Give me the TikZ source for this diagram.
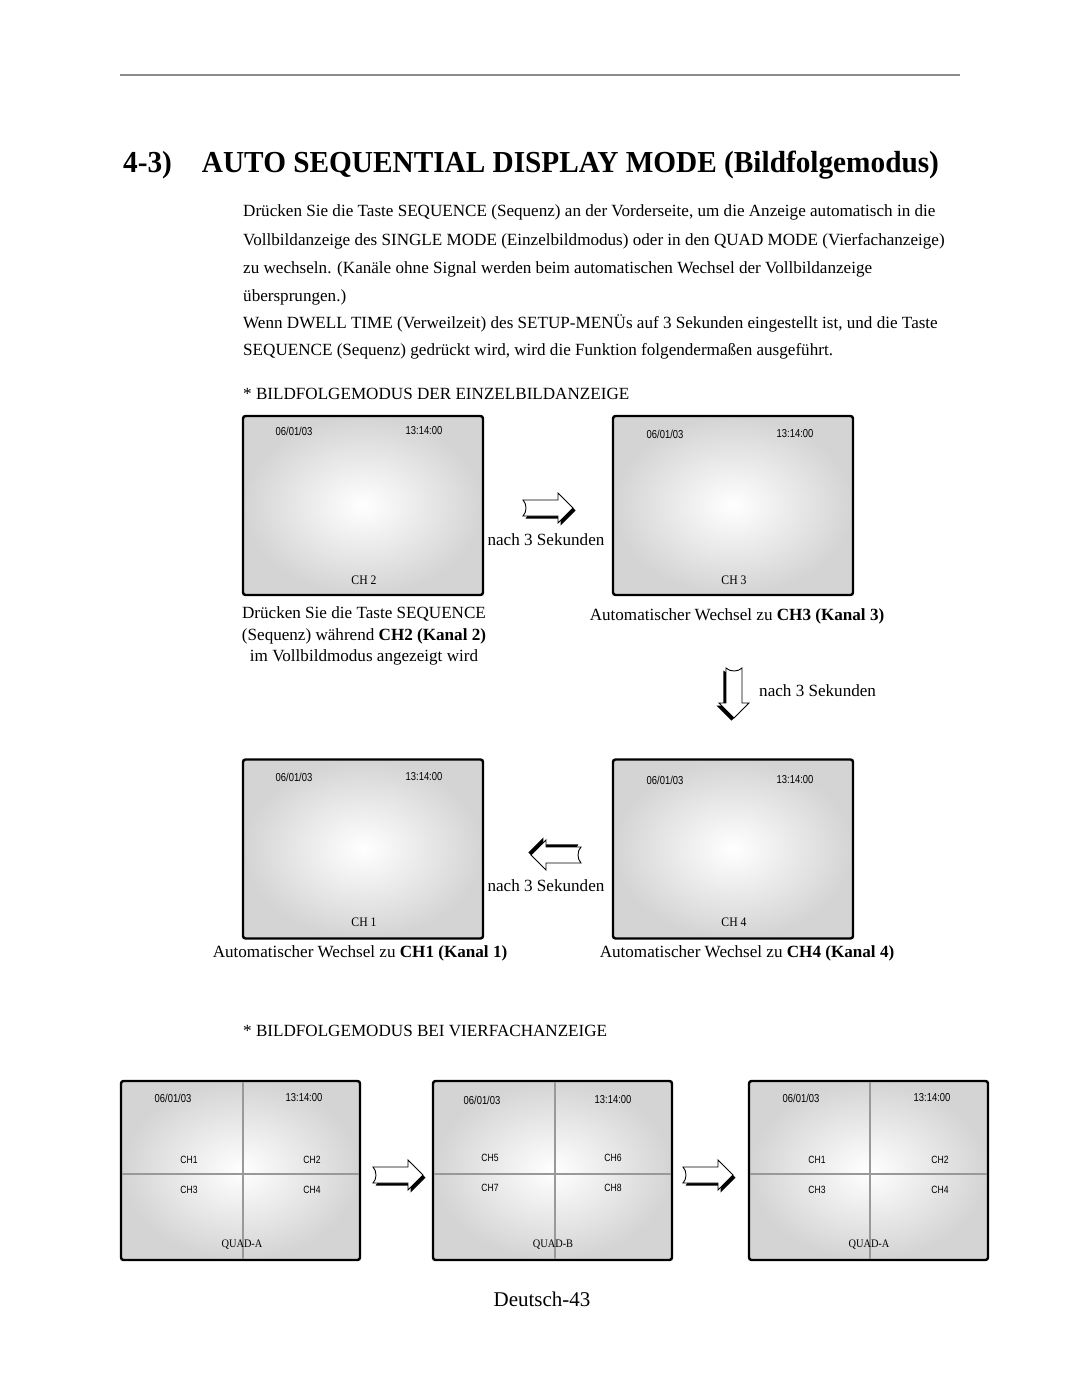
\documentclass[tikz,border=0pt]{standalone}
\usepackage{fontspec}
\setmainfont{Liberation Serif}
\newfontfamily\titlefont[FakeStretch=0.96]{Liberation Serif}
\newfontfamily\osdfont[FakeStretch=0.82]{Liberation Sans}
\newfontfamily\chfont[FakeStretch=0.9]{Liberation Serif}
\usepackage{tikz}
\usetikzlibrary{positioning, shapes, arrows.meta}

\tikzset{
  txt/.style={inner sep=0pt, font=\fontsize{17.1}{20}\selectfont},
  screen/.style={draw=black, line width=2.4pt, rounded corners=2.5pt,
    inner color=white, outer color=black!17, minimum width=240pt,
    minimum height=179pt, inner sep=0pt},
  osd/.style={inner sep=0pt, font=\osdfont\fontsize{11.5}{12}\selectfont},
  chname/.style={inner sep=0pt, font=\chfont\fontsize{13}{14}\selectfont},
  quadch/.style={inner sep=0pt, font=\osdfont\fontsize{10.5}{12}\selectfont},
  divider/.style={draw=black!40, line width=1.2pt},
  pics/seqarrow/.style={code={
    \fill[black, shift={(2.6,2.6)}] (-25,-8) -- (10,-8) -- (10,-15) -- (25,0)
      -- (10,15) -- (10,8) -- (-25,8) .. controls (-21,4) and (-21,-4) .. (-25,-8) -- cycle;
    \filldraw[fill=white, draw=black, line width=0.9pt] (-25,-8) -- (10,-8)
      -- (10,-15) -- (25,0) -- (10,15) -- (10,8) -- (-25,8)
      .. controls (-21,4) and (-21,-4) .. (-25,-8) -- cycle;
  }}
}

\begin{document}
\begin{tikzpicture}[x=1pt, y=-1pt]
  \useasboundingbox[fill=white] (0,0) rectangle (1080,1380);
  % page head
  \draw[black!45, line width=1.2pt] (120,75) -- (960,75);
  \node[inner sep=0pt, anchor=base west, font=\titlefont\bfseries\fontsize{30.5}{32}\selectfont]
    (title) at (123,173) {4-3)\hspace{30pt}AUTO SEQUENTIAL DISPLAY MODE (Bildfolgemodus)};

  % intro text
  \node[txt, anchor=base west] (l1) at (243,217) {Drücken Sie die Taste SEQUENCE (Sequenz) an der Vorderseite, um die Anzeige automatisch in die};
  \node[txt, anchor=base west] (l2) at (243,245) {Vollbildanzeige des SINGLE MODE (Einzelbildmodus) oder in den QUAD MODE (Vierfachanzeige)};
  \node[txt, anchor=base west] (l3) at (243,273) {zu wechseln. (Kanäle ohne Signal werden beim automatischen Wechsel der Vollbildanzeige};
  \node[txt, anchor=base west] (l4) at (243,301) {übersprungen.)};
  \node[txt, anchor=base west] (l5) at (243,328) {Wenn DWELL TIME (Verweilzeit) des SETUP-MENÜs auf 3 Sekunden eingestellt ist, und die Taste};
  \node[txt, anchor=base west] (l6) at (243,355) {SEQUENCE (Sequenz) gedrückt wird, wird die Funktion folgendermaßen ausgeführt.};

  % single screen sequence
  \node[txt, anchor=base west] (h1) at (243,399) {* BILDFOLGEMODUS DER EINZELBILDANZEIGE};

  \node[screen] (s1) at (363,505.5) {};
  \node[osd] (s1d) at (294,431) {06/01/03};
  \node[osd] (s1t) at (424,431) {13:14:00};
  \node[chname] (s1c) at (364,580) {CH 2};

  \node[screen] (s2) at (733,505.5) {};
  \node[osd] (s2d) at (665,434) {06/01/03};
  \node[osd] (s2t) at (795,434) {13:14:00};
  \node[chname] (s2c) at (734,580) {CH 3};

  \node[screen] (s3) at (363,849) {};
  \node[osd] (s3d) at (294,777) {06/01/03};
  \node[osd] (s3t) at (424,777) {13:14:00};
  \node[chname] (s3c) at (364,922) {CH 1};

  \node[screen] (s4) at (733,849) {};
  \node[osd] (s4d) at (665,780) {06/01/03};
  \node[osd] (s4t) at (795,780) {13:14:00};
  \node[chname] (s4c) at (734,922) {CH 4};

  \pic at (548,508) {seqarrow};
  \node[txt] (w1) at (546,540) {nach 3 Sekunden};
  \pic[rotate=-90] at (734,693) {seqarrow};
  \node[txt, anchor=west] (w2) at (759,691) {nach 3 Sekunden};
  \pic[rotate=180] at (556,855) {seqarrow};
  \node[txt] (w3) at (546,886) {nach 3 Sekunden};

  \node[txt, align=center, font=\fontsize{17.1}{21.5}\selectfont] (c1) at (364,636)
    {Drücken Sie die Taste SEQUENCE\\(Sequenz) während \textbf{CH2 (Kanal 2)}\\im Vollbildmodus angezeigt wird};
  \node[txt] (c2) at (737,616) {Automatischer Wechsel zu \textbf{CH3 (Kanal 3)}};
  \node[txt] (c3) at (360,953) {Automatischer Wechsel zu \textbf{CH1 (Kanal 1)}};
  \node[txt] (c4) at (747,953) {Automatischer Wechsel zu \textbf{CH4 (Kanal 4)}};

  % quad sequence
  \node[txt, anchor=base west] (h2) at (243,1036) {* BILDFOLGEMODUS BEI VIERFACHANZEIGE};

  \node[screen, minimum width=239pt] (q1) at (240.5,1170.5) {};
  \draw[divider] (243,1082) -- (243,1259);
  \draw[divider] (122,1174) -- (359,1174);
  \node[osd] (q1d) at (173,1098) {06/01/03};
  \node[osd] (q1t) at (304,1098) {13:14:00};
  \node[quadch] (q11) at (189,1160) {CH1};
  \node[quadch] (q12) at (312,1160) {CH2};
  \node[quadch] (q13) at (189,1190) {CH3};
  \node[quadch] (q14) at (312,1190) {CH4};
  \node[chname, font=\chfont\fontsize{11.5}{12}\selectfont] (q1n) at (242,1245) {QUAD-A};

  \node[screen, minimum width=239pt] (q2) at (552.5,1170.5) {};
  \draw[divider] (555,1082) -- (555,1259);
  \draw[divider] (434,1174) -- (671,1174);
  \node[osd] (q2d) at (482,1100) {06/01/03};
  \node[osd] (q2t) at (613,1100) {13:14:00};
  \node[quadch] (q21) at (490,1158) {CH5};
  \node[quadch] (q22) at (613,1158) {CH6};
  \node[quadch] (q23) at (490,1188) {CH7};
  \node[quadch] (q24) at (613,1188) {CH8};
  \node[chname, font=\chfont\fontsize{11.5}{12}\selectfont] (q2n) at (553,1245) {QUAD-B};

  \node[screen, minimum width=239pt] (q3) at (868.5,1170.5) {};
  \draw[divider] (870,1082) -- (870,1259);
  \draw[divider] (750,1174) -- (987,1174);
  \node[osd] (q3d) at (801,1098) {06/01/03};
  \node[osd] (q3t) at (932,1098) {13:14:00};
  \node[quadch] (q31) at (817,1160) {CH1};
  \node[quadch] (q32) at (940,1160) {CH2};
  \node[quadch] (q33) at (817,1190) {CH3};
  \node[quadch] (q34) at (940,1190) {CH4};
  \node[chname, font=\chfont\fontsize{11.5}{12}\selectfont] (q3n) at (869,1245) {QUAD-A};

  \pic at (398,1175) {seqarrow};
  \pic at (708,1175) {seqarrow};

  % page number
  \node[inner sep=0pt, font=\fontsize{21}{24}\selectfont] (pg) at (542,1299) {Deutsch-43};
\end{tikzpicture}
\end{document}
